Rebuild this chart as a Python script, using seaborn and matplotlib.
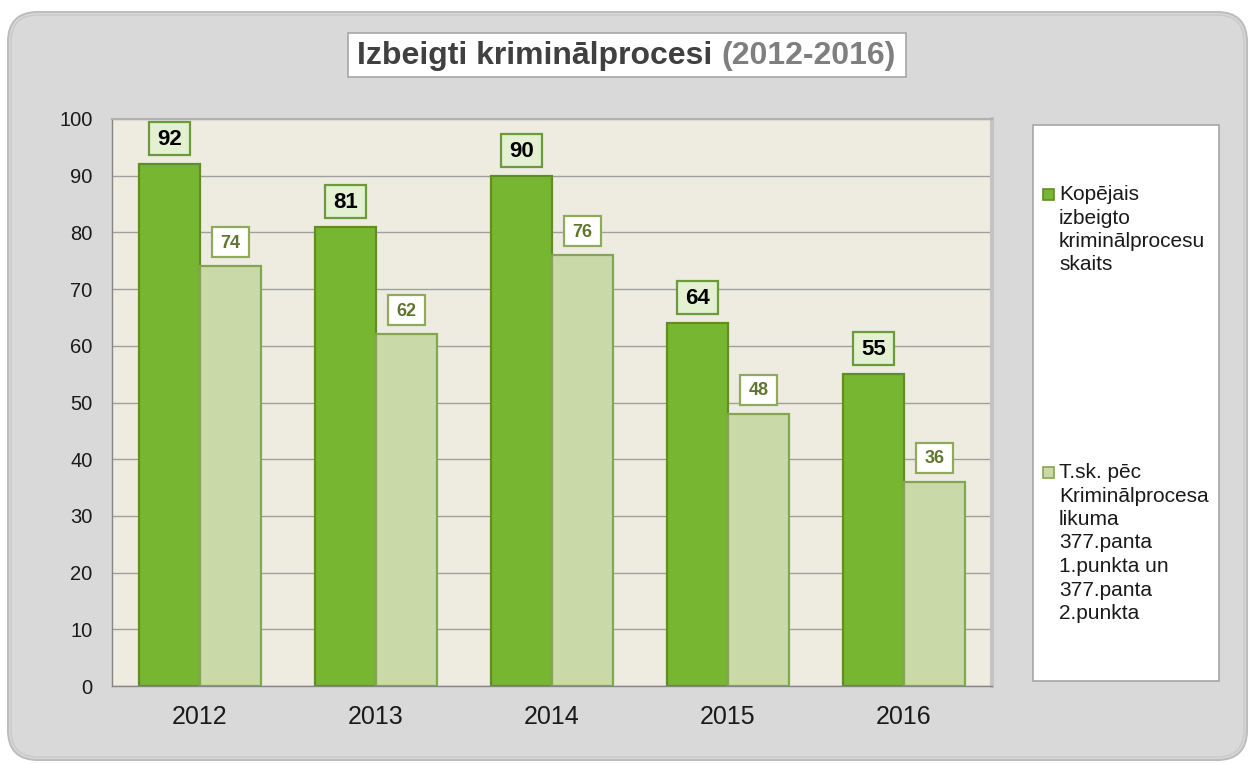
import pandas as pd
import matplotlib.pyplot as plt
import seaborn as sns
from matplotlib.patches import FancyBboxPatch, Rectangle
from matplotlib.path import Path
from matplotlib.transforms import Affine2D

years = ['2012', '2013', '2014', '2015', '2016']
total_cases = [92, 81, 90, 64, 55]
art377_cases = [74, 62, 76, 48, 36]
series_labels = ['Kopējais\nizbeigto\nkriminālprocesu\nskaits',
                 'T.sk. pēc\nKriminālprocesa\nlikuma\n377.panta\n1.punkta un\n377.panta\n2.punkta']
title_main = 'Izbeigti kriminālprocesi'
title_years = '(2012-2016)'

df = pd.DataFrame({
    'year': years * 2,
    'value': total_cases + art377_cases,
    'series': ['total'] * len(years) + ['art377'] * len(years),
})

sns.set_style('white')
plt.rcParams['font.family'] = ['Liberation Sans', 'DejaVu Sans']

W, H = 1253, 764
fig = plt.figure(figsize=(W / 100, H / 100), dpi=100)


def fx(px):
    return px / W


def fy(py):
    return 1 - py / H


def fixed_box(w, h):
    # label box of a fixed pixel size, centred on the text
    def style(x0, y0, width, height, mutation_size):
        cx, cy = x0 + width / 2, y0 + height / 2 + 1
        return Path.unit_rectangle().transformed(
            Affine2D().scale(w, h).translate(cx - w / 2, cy - h / 2))
    return style


# rounded grey panel behind everything
fig.patches.append(FancyBboxPatch((0.08, 0.04), 12.39, 7.48, boxstyle='round,pad=0,rounding_size=0.3',
                                  transform=fig.dpi_scale_trans, facecolor='#d9d9d9',
                                  edgecolor='#bdbdbd', linewidth=1.5, zorder=0))
fig.patches.append(FancyBboxPatch((0.11, 0.07), 12.33, 7.42, boxstyle='round,pad=0,rounding_size=0.27',
                                  transform=fig.dpi_scale_trans, facecolor='none',
                                  edgecolor='#c9c9c9', linewidth=1.0, zorder=0))

ax = fig.add_axes([fx(112), fy(686), fx(992) - fx(112), (686 - 119) / H])
ax.set_zorder(2)
sns.barplot(data=df, x='year', y='value', hue='series', palette=['#77b631', '#c9daa8'],
            width=0.69, saturation=1, legend=False, ax=ax, linewidth=1.6)

styles = [
    dict(edge='#5e8f24', box_fc='#e3f1d2', box_ec='#6b9a3a', color='black', size=16, off=17.6, box=(41, 33)),
    dict(edge='#86a552', box_fc='white', box_ec='#8faa5c', color='#5f7530', size=13, off=16.6, box=(37, 30)),
]
for container, st in zip(ax.containers, styles):
    for bar in container:
        bar.set_edgecolor(st['edge'])
        h = bar.get_height()
        ax.annotate(f'{h:.0f}', (bar.get_x() + bar.get_width() / 2, h), xytext=(0, st['off']),
                    textcoords='offset points', ha='center', va='center', fontsize=st['size'],
                    fontweight='bold', color=st['color'],
                    bbox=dict(boxstyle=fixed_box(*st['box']), fc=st['box_fc'], ec=st['box_ec'], lw=1.6))

ax.set_facecolor('#eeece1')
ax.set_xlim(-0.5, 4.5)
ax.set_ylim(0, 100)
ax.set_yticks(range(0, 101, 10))
ax.yaxis.grid(True, color='#a0a0a0', linewidth=1)
ax.set_axisbelow(True)
ax.set_xlabel('')
ax.set_ylabel('')
ax.tick_params(axis='y', length=0, pad=14, labelsize=14.5, labelcolor='#1a1a1a')
ax.tick_params(axis='x', length=0, pad=14, labelsize=18, labelcolor='#1a1a1a')
for side in ['left', 'bottom']:
    ax.spines[side].set_color('#868686')
    ax.spines[side].set_linewidth(1)
ax.spines['top'].set_color('#b0b0b0')
ax.spines['top'].set_linewidth(1.5)
ax.spines['right'].set_color('#c4c4c4')
ax.spines['right'].set_linewidth(3)

# title box
fig.patches.append(Rectangle((fx(348), fy(77)), fx(906) - fx(348), (77 - 33) / H,
                             transform=fig.transFigure, facecolor='white', edgecolor='#a6a6a6', linewidth=1.2))
t1 = fig.text(fx(357), fy(56), title_main, ha='left', va='center', fontsize=23,
              fontweight='bold', color='#404040')
ax.annotate(title_years, xy=(1, 0), xycoords=t1, xytext=(6.5, 0), textcoords='offset points',
            ha='left', va='bottom', fontsize=23, fontweight='bold', color='#7f7f7f')

# legend box
fig.patches.append(Rectangle((fx(1033), fy(681)), fx(1219) - fx(1033), (681 - 125) / H,
                             transform=fig.transFigure, facecolor='white', edgecolor='#a6a6a6', linewidth=1.2))
legend_rows = [(189, 185, '#77b631', '#5e8f24'), (467, 463, '#c9daa8', '#86a552')]
for (sq_top, txt_top, fc, ec), label in zip(legend_rows, series_labels):
    fig.patches.append(Rectangle((fx(1043), fy(sq_top + 11)), fx(1054) - fx(1043), 11 / H,
                                 transform=fig.transFigure, facecolor=fc, edgecolor=ec, linewidth=1.2))
    fig.text(fx(1059), fy(txt_top), label, ha='left', va='top', fontsize=15,
             color='#1a1a1a', linespacing=1.3)

fig.savefig('out.png', dpi=100)
